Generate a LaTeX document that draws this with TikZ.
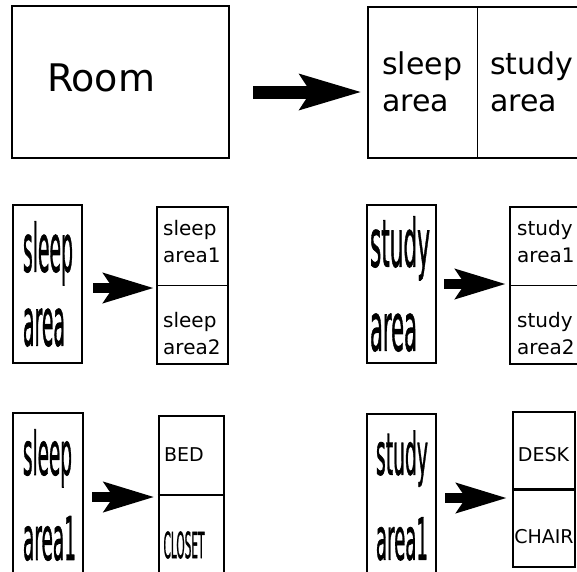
\documentclass[tikz,border=0pt]{standalone}
\usepackage{fontspec}
\setmainfont{DejaVu Sans}
\newfontfamily\tallfont[FakeBold=1.5]{DejaVu Sans}
\usepackage{graphicx}
\usetikzlibrary{arrows.meta}
\newcommand{\squeeze}[2]{\resizebox{#1}{\height}{#2}}

\begin{document}
\begin{tikzpicture}[x=1pt, y=-1pt,
  box/.style={shape=rectangle, draw=black, line width=2pt, inner sep=0pt},
  tag/.style={inner sep=0pt, anchor=west, align=left, font=\fontsize{20}{27}\selectfont},
  tall/.style={box, align=left},
  bigarrow/.style={line width=13pt, -{Stealth[length=61pt, width=34pt, inset=10pt]}},
  smallarrow/.style={line width=10pt, -{Stealth[length=50pt, width=29pt, inset=9pt]}}]
\clip (0,0) rectangle (577,571);
% room -> two areas
\node[box, minimum height=152pt, text width=147pt, inner xsep=35pt, align=left, text height=28pt, text depth=9pt, font=\fontsize{38}{46}\selectfont] (room) at (120.5,82) {Room};
\node[box, minimum width=218pt, minimum height=151pt] (split) at (477,82.5) {};
\draw[line width=0.8pt] (split.north) -- (split.south);
\node[tag, font=\fontsize{30}{37}\selectfont] (sleepArea) at (382,82) {sleep\\area};
\node[tag, font=\fontsize{30}{37}\selectfont] (studyArea) at (490,82) {study\\area};
\draw[bigarrow, shorten <=23pt, shorten >=5pt] ([yshift=-10pt]room.east) -- ([yshift=-10pt]room.east -| split.west);
% sleep area
\node[tall, text width=49pt, inner xsep=10pt, minimum height=158pt, font=\fontsize{66}{74}\tallfont] (sleepBox) at (47.5,284) {\squeeze{50pt}{sleep}\\\squeeze{42pt}{area}};
\node[box, minimum width=71pt, minimum height=157pt] (sleepParts) at (192.5,285.5) {};
\draw[line width=0.8pt] (sleepParts.west) -- (sleepParts.east);
\node[tag] (sleepOne) at (163,241.5) {sleep\\area1};
\node[tag] (sleepTwo) at (163,333.5) {sleep\\area2};
\draw[smallarrow, shorten <=10pt, shorten >=2pt] ([yshift=-4pt]sleepBox.east) -- ([yshift=-4pt]sleepBox.east -| sleepParts.west);
% study area
\node[tall, text width=63pt, inner xsep=3pt, minimum height=158pt, font=\fontsize{66}{84}\tallfont] (studyBox) at (401.5,284) {\squeeze{60pt}{study}\\\squeeze{47pt}{area}};
\node[box, minimum width=71pt, minimum height=157pt] (studyParts) at (545.5,285.5) {};
\draw[line width=0.8pt] (studyParts.west) -- (studyParts.east);
\node[tag] (studyOne) at (517,241.5) {study\\area1};
\node[tag] (studyTwo) at (517,333.5) {study\\area2};
\draw[smallarrow, shorten <=7pt, shorten >=3pt] (studyBox.east) -- (studyBox.east -| studyParts.west);
% sleep area1
\node[tall, text width=50pt, inner xsep=10pt, minimum height=164pt, font=\fontsize{60}{85}\tallfont] (sleepBoxOne) at (48,495) {\squeeze{49pt}{sleep}\\\squeeze{53pt}{area1}};
\node[box, minimum width=65pt, minimum height=158pt] (sleepItems) at (191,495) {};
\draw[line width=2.5pt] (sleepItems.west) -- (sleepItems.east);
\node[inner sep=0pt, font=\fontsize{19}{23}\selectfont] (bed) at (184,455) {BED};
\node[inner sep=0pt, font=\fontsize{36}{40}\tallfont] (closet) at (184,545) {\squeeze{41pt}{CLOSET}};
\draw[smallarrow, shorten <=8pt, shorten >=3pt] ([yshift=-2pt]sleepBoxOne.east) -- ([yshift=-2pt]sleepBoxOne.east -| sleepItems.west);
% study area1
\node[tall, text width=51pt, inner xsep=9pt, minimum height=163pt, font=\fontsize{58}{85}\tallfont] (studyBoxOne) at (401.5,495.5) {\squeeze{52pt}{study}\\\squeeze{52pt}{area1}};
\node[box, minimum width=62pt, minimum height=155pt] (studyItems) at (544,489.5) {};
\draw[line width=2.5pt] (studyItems.west) -- (studyItems.east);
\node[inner sep=0pt, font=\fontsize{19}{23}\selectfont] (desk) at (543.5,455) {DESK};
\node[inner sep=0pt, font=\fontsize{19}{23}\selectfont] (chair) at (544,537) {CHAIR};
\draw[smallarrow, shorten <=8pt, shorten >=5pt] ([yshift=-2.5pt]studyBoxOne.east) -- ([yshift=-2.5pt]studyBoxOne.east -| studyItems.west);
\end{tikzpicture}
\end{document}
